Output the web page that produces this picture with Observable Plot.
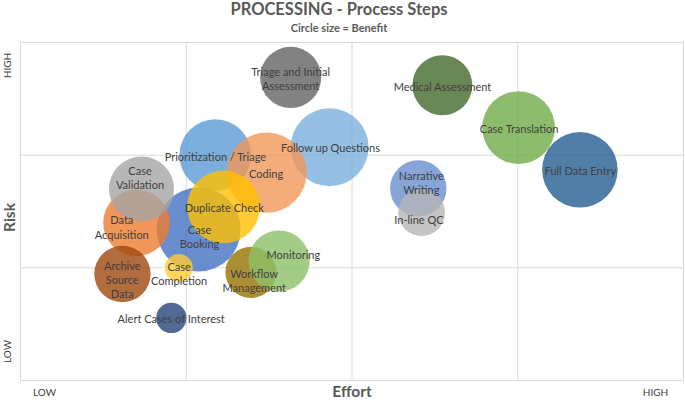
<!DOCTYPE html>
<html>
<head>
<meta charset="utf-8">
<script src="https://cdn.jsdelivr.net/npm/d3@7"></script>
<script src="https://cdn.jsdelivr.net/npm/@observablehq/plot@0.6"></script>
<style>
  html, body { margin: 0; padding: 0; background: #fff; }
  body { width: 685px; height: 401px; overflow: hidden; font-family: Lato, "Open Sans", sans-serif; }
  #head { height: 34px; width: 678px; text-align: center; color: #595959; font-weight: bold; }
  #title { font-size: 16.5px; line-height: 18px; padding-top: 0px; }
  #subtitle { font-size: 11px; line-height: 14px; margin-top: 3px; }
  svg { display: block; }
</style>
</head>
<body>
<div id="head">
  <div id="title">PROCESSING - Process Steps</div>
  <div id="subtitle">Circle size = Benefit</div>
</div>
<div id="chart"></div>
<script>
// Process steps (drawing order, bottom to top)
const steps = [
  "Triage and Initial Assessment", "Medical Assessment", "Follow up Questions",
  "Prioritization / Triage", "Case Booking", "Data Acquisition", "Case Validation",
  "Coding", "Duplicate Check", "Narrative Writing", "In-line QC", "Case Translation",
  "Full Data Entry", "Archive Source Data", "Case Completion", "Workflow Management",
  "Monitoring", "Alert Cases of Interest"
];
// Displayed labels (with line breaks as in the chart)
const labels = [
  "Triage and Initial\nAssessment", "Medical Assessment", "Follow up Questions",
  "Prioritization / Triage", "Case\nBooking", "Data\nAcquisition", "Case\nValidation",
  "Coding", "Duplicate Check", "Narrative\nWriting", "In-line QC", "Case Translation",
  "Full Data Entry", "Archive\nSource\nData", "Case\nCompletion", "Workflow\nManagement",
  "Monitoring", "Alert Cases of Interest"
];
// Effort (x, 0 = LOW .. 4 = HIGH)
const effort = [1.63, 2.545, 1.865, 1.175, 1.075, 0.70, 0.73, 1.485, 1.225, 2.40, 2.42, 3.005, 3.375, 0.615, 0.955, 1.39, 1.56, 0.91];
// Risk (y, 0 = LOW .. 3 = HIGH)
const risk = [2.69, 2.62, 2.07, 2.0, 1.34, 1.40, 1.70, 1.845, 1.54, 1.705, 1.49, 2.245, 1.87, 0.945, 1.0, 0.96, 1.06, 0.555];
// Benefit (circle size)
const benefit = [53, 51, 86, 73, 100, 63, 60, 91, 75, 45, 31, 75, 81, 45, 11, 37, 53, 13];
// Label anchor positions (data units, as placed in the chart)
const labelEffort = [1.63, 2.546, 1.870, 1.176, 1.080, 0.611, 0.721, 1.482, 1.229, 2.418, 2.404, 3.008, 3.378, 0.614, 0.957, 1.410, 1.646, 0.909];
const labelRisk = [2.682, 2.613, 2.065, 1.988, 1.281, 1.364, 1.802, 1.837, 1.538, 1.757, 1.429, 2.240, 1.864, 0.896, 0.951, 0.889, 1.116, 0.553];
// Bubble colours
const colors = [
  "#636363", "#43682B", "#7CAFDD", "#5B9BD5", "#4472C4", "#ED7D31", "#A5A5A5",
  "#F1975A", "#FFC000", "#698ED0", "#B7B7B7", "#70AD47", "#255E91", "#9E480E",
  "#FFCD33", "#997300", "#8CC168", "#264478"
];
// Axis texts
const xAxisTitle = "Effort";
const yAxisTitle = "Risk";
const lowText = "LOW";
const highText = "HIGH";
const xGrid = [1, 2, 3];
const yGrid = [1, 2];

const data = steps.map((s, i) => ({
  step: s, label: labels[i], effort: effort[i], risk: risk[i], benefit: benefit[i],
  color: colors[i], lx: labelEffort[i], ly: labelRisk[i]
}));

const axisFont = "Lato, 'Open Sans', sans-serif";
const plot = Plot.plot({
  width: 685,
  height: 367,
  marginTop: 8,
  marginLeft: 20,
  marginRight: 2,
  marginBottom: 21,
  style: { fontFamily: axisFont, background: "#fff" },
  x: { domain: [0, 4], axis: null },
  y: { domain: [0, 3], axis: null },
  r: { type: "sqrt", domain: [0, 100], range: [0, 42] },
  color: { type: "identity" },
  marks: [
    Plot.ruleX(xGrid, { stroke: "#d9d9d9", strokeWidth: 1 }),
    Plot.ruleY(yGrid, { stroke: "#d9d9d9", strokeWidth: 1 }),
    Plot.frame({ stroke: "#d9d9d9" }),
    Plot.dot(data, { x: "effort", y: "risk", r: "benefit", fill: "color", fillOpacity: 0.8, stroke: "none", sort: null }),
    Plot.text(data, { x: "lx", y: "ly", text: "label", fill: "#404040", fontSize: 11, lineHeight: 1.3 }),
    // Y axis title and ends
    Plot.text([yAxisTitle], { text: d => d, frameAnchor: "left", dx: -10.5, dy: 6, rotate: -90, textAnchor: "middle", lineAnchor: "middle", fontSize: 15.5, fontWeight: "bold", fill: "#595959" }),
    Plot.text([highText], { text: d => d, frameAnchor: "top-left", dx: -13, dy: 23, rotate: -90, textAnchor: "middle", lineAnchor: "middle", fontSize: 10, fill: "#404040" }),
    Plot.text([lowText], { text: d => d, frameAnchor: "bottom-left", dx: -13, dy: -29, rotate: -90, textAnchor: "middle", lineAnchor: "middle", fontSize: 10, fill: "#404040" }),
    // X axis title and ends
    Plot.text([xAxisTitle], { text: d => d, frameAnchor: "bottom", dx: 0, dy: 11.5, textAnchor: "middle", lineAnchor: "middle", fontSize: 15.5, fontWeight: "bold", fill: "#595959" }),
    Plot.text([lowText], { text: d => d, frameAnchor: "bottom-left", dx: 24, dy: 12, textAnchor: "middle", lineAnchor: "middle", fontSize: 10, fill: "#404040" }),
    Plot.text([highText], { text: d => d, frameAnchor: "bottom-right", dx: -28, dy: 12, textAnchor: "middle", lineAnchor: "middle", fontSize: 10, fill: "#404040" })
  ]
});
document.getElementById("chart").appendChild(plot);
</script>
</body>
</html>
